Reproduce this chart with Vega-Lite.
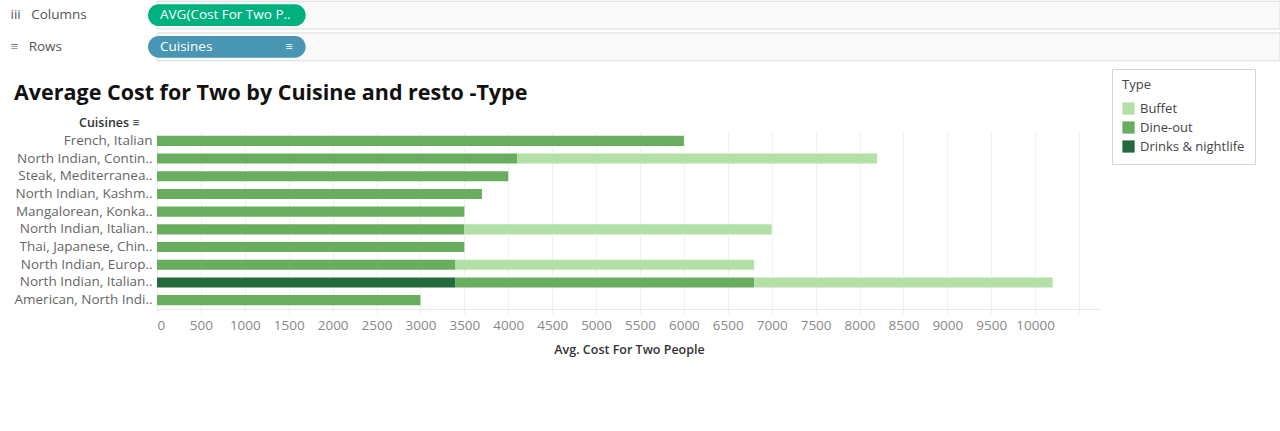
{
  "$schema": "https://vega.github.io/schema/vega-lite/v6.json",
  "background": "white",
  "padding": {"left": 10, "top": 0, "right": 0, "bottom": 30},
  "config": {"font": "Open Sans", "view": {"stroke": null}},
  "spacing": 6,
  "resolve": {"scale": {"color": "independent", "fill": "independent"}, "legend": {"color": "independent", "fill": "independent"}},
  "vconcat": [
    {
      "width": 1123,
      "height": 62,
      "data": {"values": [
        {"shelf": "Columns", "pill": "AVG(Cost For Two P..", "icon": ""},
        {"shelf": "Rows", "pill": "Cuisines", "icon": "≡"}
      ]},
      "encoding": {
        "y": {"field": "shelf", "type": "nominal", "sort": ["Columns", "Rows"],
          "scale": {"paddingInner": 0.12, "paddingOuter": 0.04},
          "axis": {"title": null, "domain": false, "ticks": false, "labelAlign": "left", "labelPadding": 147,
            "labelFontSize": 13.5, "labelColor": "#555",
            "labelExpr": "datum.value == 'Columns' ? 'iii\u00a0\u00a0\u00a0Columns' : '≡\u00a0\u00a0\u00a0Rows'"}}
      },
      "layer": [
        {"mark": {"type": "rect", "fill": "#f9f9f9", "stroke": "#dcdcdc"}},
        {
          "mark": {"type": "bar", "cornerRadius": 11, "xOffset": -9, "height": {"band": 0.78}},
          "encoding": {
            "x": {"datum": "pill", "type": "nominal", "scale": {"domain": ["pill", "a", "b", "c", "d", "e", "f"], "paddingInner": 0.02, "paddingOuter": 0}, "axis": null},
            "fill": {"field": "shelf", "type": "nominal", "scale": {"domain": ["Columns", "Rows"], "range": ["#00b180", "#4996b2"]}, "legend": null}
          }
        },
        {
          "mark": {"type": "text", "align": "left", "dx": 3, "color": "white", "fontSize": 13.5, "fontWeight": 500},
          "encoding": {
            "x": {"datum": "pill", "type": "nominal", "bandPosition": 0},
            "text": {"field": "pill"}
          }
        },
        {
          "mark": {"type": "text", "align": "right", "dx": -22, "color": "white", "fontSize": 13},
          "encoding": {
            "x": {"datum": "pill", "type": "nominal", "bandPosition": 1},
            "text": {"field": "icon"}
          }
        }
      ]
    },
    {
      "width": 944,
      "height": 177,
      "title": {"text": "Average Cost for Two by Cuisine and resto -Type", "anchor": "start", "frame": "bounds", "fontSize": 21.5, "fontWeight": "bold", "color": "#111", "offset": -36},
      "data": {"values": [
        {"Cuisines": "French, Italian", "Type": "Dine-out", "Cost": 6000},
        {"Cuisines": "North Indian, Contin..", "Type": "Dine-out", "Cost": 4100},
        {"Cuisines": "North Indian, Contin..", "Type": "Buffet", "Cost": 4100},
        {"Cuisines": "Steak, Mediterranea..", "Type": "Dine-out", "Cost": 4000},
        {"Cuisines": "North Indian, Kashm..", "Type": "Dine-out", "Cost": 3700},
        {"Cuisines": "Mangalorean, Konka..", "Type": "Dine-out", "Cost": 3500},
        {"Cuisines": "North Indian, Italian..", "Type": "Dine-out", "Cost": 3500},
        {"Cuisines": "North Indian, Italian..", "Type": "Buffet", "Cost": 3500},
        {"Cuisines": "Thai, Japanese, Chin..", "Type": "Dine-out", "Cost": 3500},
        {"Cuisines": "North Indian, Europ..", "Type": "Dine-out", "Cost": 3400},
        {"Cuisines": "North Indian, Europ..", "Type": "Buffet", "Cost": 3400},
        {"Cuisines": "North Indian, Italian.. ", "Type": "Drinks & nightlife", "Cost": 3400},
        {"Cuisines": "North Indian, Italian.. ", "Type": "Dine-out", "Cost": 3400},
        {"Cuisines": "North Indian, Italian.. ", "Type": "Buffet", "Cost": 3400},
        {"Cuisines": "American, North Indi..", "Type": "Dine-out", "Cost": 3000}
      ]},
      "mark": {"type": "bar"},
      "encoding": {
        "y": {"field": "Cuisines", "type": "nominal",
          "sort": ["French, Italian", "North Indian, Contin..", "Steak, Mediterranea..", "North Indian, Kashm..", "Mangalorean, Konka..", "North Indian, Italian..", "Thai, Japanese, Chin..", "North Indian, Europ..", "North Indian, Italian.. ", "American, North Indi.."],
          "scale": {"paddingInner": 0.43, "paddingOuter": 0.215},
          "axis": {"title": "Cuisines ≡", "titleAngle": 0, "titleAlign": "right", "titleBaseline": "alphabetic", "titleX": -18, "titleY": -6,
            "titleFontSize": 12.5, "titleFontWeight": 600, "titleColor": "#333",
            "domain": false, "ticks": false, "labelPadding": 5, "labelFontSize": 13.5, "labelColor": "#666",
            "labelExpr": "trim(datum.label)"}
        },
        "x": {"aggregate": "sum", "field": "Cost", "type": "quantitative",
          "scale": {"domain": [0, 10750], "nice": false},
          "axis": {"title": "Avg. Cost For Two People", "values": [0, 500, 1000, 1500, 2000, 2500, 3000, 3500, 4000, 4500, 5000, 5500, 6000, 6500, 7000, 7500, 8000, 8500, 9000, 9500, 10000, 10500],
            "labelExpr": "datum.value > 10000 ? '' : datum.value", "labelFlush": true,
            "grid": true, "gridColor": "#f0f0f0", "domainColor": "#e8e8e8", "tickColor": "#f0f0f0", "tickSize": 5,
            "labelColor": "#888", "labelFontSize": 13.5, "labelPadding": 4,
            "titleFontSize": 12.5, "titleFontWeight": 600, "titleColor": "#333", "titlePadding": 12}
        },
        "color": {"field": "Type", "type": "nominal",
          "scale": {"domain": ["Buffet", "Dine-out", "Drinks & nightlife"], "range": ["#b3e0a6", "#69ae5f", "#24693d"]},
          "legend": {"title": "Type", "orient": "none", "legendX": 955, "legendY": -63, "symbolType": "square", "symbolSize": 150, "symbolStrokeWidth": 0,
            "labelFontSize": 13, "labelColor": "#444", "titleFontSize": 13, "titleFontWeight": "normal", "titleColor": "#444",
            "padding": 10, "rowPadding": 5, "titlePadding": 10, "strokeColor": "#d4d4d4", "fillColor": "#ffffff", "labelOffset": 5}
        },
        "order": {"field": "Type", "sort": "descending"}
      }
    }
  ]
}
